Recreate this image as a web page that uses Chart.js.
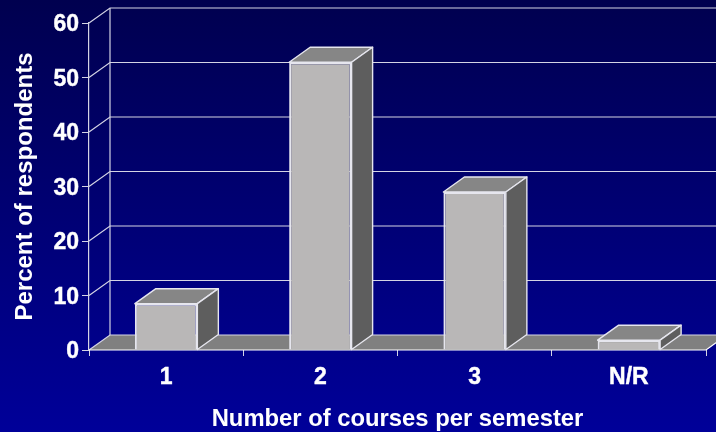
<!DOCTYPE html>
<html>
<head>
<meta charset="utf-8">
<style>
html,body{margin:0;padding:0;width:716px;height:432px;overflow:hidden;background:linear-gradient(to bottom,#00004f 0%,#000099 100%);}
canvas{display:block;}
</style>
<script src="https://cdn.jsdelivr.net/npm/chart.js@4"></script>
</head>
<body>
<div style="width:716px;height:432px;position:relative"><canvas id="c" width="716" height="432"></canvas></div>
<script>
const categories = ["1", "2", "3", "N/R"];
const percentValues = [8.5, 52.8, 29, 1.8];
const yTickValues = [0, 10, 20, 30, 40, 50, 60];
const yAxisTitle = "Percent of respondents";
const xAxisTitle = "Number of courses per semester";
const depthX = 21, depthY = 15;
const lineColor = "#d4d4e4";
const edgeColor = "#e6e6ee";

function poly(ctx, pts, fill, stroke, lw) {
  ctx.beginPath();
  pts.forEach((p, i) => i ? ctx.lineTo(p[0], p[1]) : ctx.moveTo(p[0], p[1]));
  ctx.closePath();
  if (fill) { ctx.fillStyle = fill; ctx.fill(); }
  if (stroke) { ctx.strokeStyle = stroke; ctx.lineWidth = lw || 1; ctx.lineJoin = "round"; ctx.stroke(); }
}

const depthPlugin = {
  id: "depth",
  beforeDatasetsDraw(chart) {
    const ctx = chart.ctx, y = chart.scales.y, a = chart.chartArea;
    ctx.save();
    const base = y.getPixelForValue(0);
    poly(ctx, [[a.left, base], [a.left + depthX, base - depthY], [a.right + depthX, base - depthY], [a.right, base]], "#808080", null);
    ctx.strokeStyle = lineColor;
    ctx.lineWidth = 1.2;
    yTickValues.forEach(v => {
      const p = y.getPixelForValue(v);
      ctx.beginPath();
      ctx.moveTo(a.left, p);
      ctx.lineTo(a.left + depthX, p - depthY);
      ctx.lineTo(a.right + depthX, p - depthY);
      ctx.stroke();
    });
    ctx.beginPath();
    ctx.moveTo(a.left + depthX, y.getPixelForValue(60) - depthY);
    ctx.lineTo(a.left + depthX, base - depthY);
    ctx.stroke();
    ctx.strokeStyle = "#ffffff";
    ctx.beginPath();
    ctx.moveTo(a.left, base);
    ctx.lineTo(a.right, base);
    ctx.lineTo(a.right + depthX, base - depthY);
    ctx.stroke();
    ctx.restore();
  },
  afterDatasetsDraw(chart) {
    const ctx = chart.ctx;
    ctx.save();
    chart.getDatasetMeta(0).data.forEach(bar => {
      const b = bar.getProps(["x", "y", "base", "width"], true);
      const l = b.x - b.width / 2, r = b.x + b.width / 2;
      poly(ctx, [[l, b.y], [l + depthX, b.y - depthY], [r + depthX, b.y - depthY], [r, b.y]], "#868686", edgeColor, 1.4);
      poly(ctx, [[r, b.y], [r + depthX, b.y - depthY], [r + depthX, b.base - depthY], [r, b.base]], "#5e5e5e", edgeColor, 1.4);
    });
    ctx.restore();
  }
};

new Chart(document.getElementById("c"), {
  type: "bar",
  data: {
    labels: categories,
    datasets: [{
      data: percentValues,
      backgroundColor: "#b9b7b7",
      borderColor: edgeColor,
      borderWidth: 2,
      barPercentage: 0.405,
      categoryPercentage: 1
    }]
  },
  plugins: [depthPlugin],
  options: {
    responsive: false,
    animation: false,
    events: [],
    layout: { padding: { top: 23, right: 10, left: 0, bottom: 0 } },
    plugins: { legend: { display: false }, tooltip: { enabled: false }, title: { display: false } },
    scales: {
      x: {
        afterFit(s) { s.height = 82; },
        grid: { display: true, drawOnChartArea: false, drawTicks: true, tickLength: 6, color: lineColor, lineWidth: 1, offset: true },
        border: { display: false },
        ticks: { color: "#ffffff", padding: 8, maxRotation: 0, textStrokeColor: "#ffffff", textStrokeWidth: 0.4, font: { family: "'Liberation Sans'", size: 23, weight: "bold" } },
        title: { display: true, text: xAxisTitle, color: "#ffffff", padding: { top: 11, bottom: -2 }, font: { family: "'Liberation Sans'", size: 23.8, weight: "bold" } }
      },
      y: {
        min: 0,
        max: 60,
        afterFit(s) { s.width = 89; },
        afterBuildTicks(s) { s.ticks = yTickValues.map(v => ({ value: v })); },
        grid: { display: true, drawOnChartArea: false, drawTicks: true, tickLength: 7, color: lineColor, lineWidth: 1 },
        border: { display: true, color: lineColor, width: 1.2 },
        ticks: { color: "#ffffff", padding: 3, labelOffset: 2, textStrokeColor: "#ffffff", textStrokeWidth: 0.4, font: { family: "'Liberation Sans'", size: 23, weight: "bold" } },
        title: { display: true, text: yAxisTitle, color: "#ffffff", padding: { top: 11, bottom: 0 }, font: { family: "'Liberation Sans'", size: 24, weight: "bold" } }
      }
    }
  }
});
</script>
</body>
</html>
